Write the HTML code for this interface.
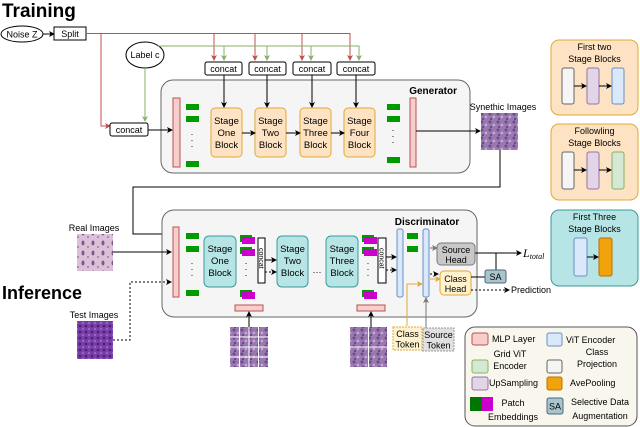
<!DOCTYPE html>
<html><head><meta charset="utf-8"><style>
html,body{margin:0;padding:0;background:#fff}
svg{display:block;font-family:"Liberation Sans",sans-serif}
</style></head><body>
<svg width="640" height="427" viewBox="0 0 640 427" xmlns="http://www.w3.org/2000/svg">
<defs>
<marker id="ak" markerWidth="6" markerHeight="6" refX="5" refY="3" orient="auto" markerUnits="userSpaceOnUse"><path d="M0,0 L6,3 L0,6 L1.5,3z" fill="#000"/></marker>
<marker id="ar" markerWidth="6" markerHeight="6" refX="5" refY="3" orient="auto" markerUnits="userSpaceOnUse"><path d="M0,0 L6,3 L0,6 L1.5,3z" fill="#c0504d"/></marker>
<marker id="ag" markerWidth="6" markerHeight="6" refX="5" refY="3" orient="auto" markerUnits="userSpaceOnUse"><path d="M0,0 L6,3 L0,6 L1.5,3z" fill="#82b366"/></marker>
<marker id="ay" markerWidth="6" markerHeight="6" refX="5" refY="3" orient="auto" markerUnits="userSpaceOnUse"><path d="M0,0 L6,3 L0,6 L1.5,3z" fill="#e0a838"/></marker>
<marker id="ay2" markerWidth="6" markerHeight="6" refX="5" refY="3" orient="auto" markerUnits="userSpaceOnUse"><path d="M0,0 L6,3 L0,6 L1.5,3z" fill="#777"/></marker>
<pattern id="tex1" width="8" height="8" patternUnits="userSpaceOnUse"><rect width="8" height="8" fill="#9a78b0"/><circle cx="2" cy="2" r="1.5" fill="#6b4a8a"/><circle cx="6" cy="5" r="1.2" fill="#c8b0d8"/><circle cx="3" cy="7" r="1" fill="#5a3a7a"/></pattern>
<pattern id="tex2" width="10" height="10" patternUnits="userSpaceOnUse"><rect width="10" height="10" fill="#dcc0d8"/><ellipse cx="3" cy="3" rx="1.5" ry="2.5" fill="#7a5a8a"/><circle cx="8" cy="7" r="1" fill="#9a7aa8"/></pattern>
<pattern id="tex3" width="6" height="6" patternUnits="userSpaceOnUse"><rect width="6" height="6" fill="#7a3fa8"/><circle cx="2" cy="2" r="1.3" fill="#4a1e7a"/><circle cx="5" cy="5" r="1" fill="#a070c8"/></pattern>
</defs>

<text x="2" y="17" font-size="19" font-weight="bold">Training</text>
<text x="2" y="299" font-size="18" font-weight="bold">Inference</text>

<ellipse cx="22" cy="34" rx="21" ry="8" fill="#fff" stroke="#000"/>
<text x="22" y="37.5" font-size="9" text-anchor="middle">Noise Z</text>
<line x1="43" y1="34" x2="54" y2="34" stroke="#000" marker-end="url(#ak)"/>
<rect x="54" y="27" width="32" height="13" fill="#fff" stroke="#000"/>
<text x="70" y="37" font-size="9" text-anchor="middle">Split</text>

<g stroke="#c0504d" fill="none">
<polyline points="86,33.5 350,33.5 350,60" marker-end="url(#ar)"/>
<line x1="214" y1="33.5" x2="214" y2="60" marker-end="url(#ar)"/>
<line x1="255" y1="33.5" x2="255" y2="60" marker-end="url(#ar)"/>
<line x1="302" y1="33.5" x2="302" y2="60" marker-end="url(#ar)"/>
<polyline points="101,33.5 101,126 110,126" marker-end="url(#ar)"/>
</g>
<ellipse cx="145" cy="55" rx="19" ry="13" fill="#fff" stroke="#000"/>
<text x="145" y="58" font-size="9" text-anchor="middle">Label c</text>
<g stroke="#82b366" fill="none">
<polyline points="157,46 359,46 359,60" marker-end="url(#ag)"/>
<line x1="224" y1="46" x2="224" y2="60" marker-end="url(#ag)"/>
<line x1="267" y1="46" x2="267" y2="60" marker-end="url(#ag)"/>
<line x1="311" y1="46" x2="311" y2="60" marker-end="url(#ag)"/>
<line x1="145" y1="68" x2="145" y2="121" marker-end="url(#ag)"/>
</g>
<g font-size="9" text-anchor="middle">
<rect x="205" y="62" width="37" height="13" rx="2" fill="#fff" stroke="#000"/><text x="223.5" y="72">concat</text>
<rect x="249" y="62" width="37" height="13" rx="2" fill="#fff" stroke="#000"/><text x="267.5" y="72">concat</text>
<rect x="293" y="62" width="38" height="13" rx="2" fill="#fff" stroke="#000"/><text x="312" y="72">concat</text>
<rect x="337" y="62" width="38" height="13" rx="2" fill="#fff" stroke="#000"/><text x="356" y="72">concat</text>
</g>

<rect x="161" y="80" width="309" height="93" rx="12" fill="#f5f5f5" stroke="#666"/>
<text x="457" y="94" font-size="10" font-weight="bold" text-anchor="end">Generator</text>
<rect x="110" y="123" width="38" height="13" rx="2" fill="#fff" stroke="#000"/>
<text x="129" y="133" font-size="9" text-anchor="middle">concat</text>
<line x1="148" y1="130" x2="172" y2="130" stroke="#000" marker-end="url(#ak)"/>
<rect x="173" y="98" width="7" height="69" fill="#f8cecc" stroke="#b85450"/>
<g fill="#009900">
<rect x="186" y="104" width="13" height="6"/><rect x="186" y="116" width="13" height="6"/><rect x="186" y="161" width="13" height="6"/>
<rect x="387" y="104" width="13" height="6"/><rect x="387" y="116" width="13" height="6"/><rect x="387" y="157" width="13" height="6"/>
</g>
<text x="393" y="133" font-size="9" text-anchor="middle">·</text><text x="393" y="139" font-size="9" text-anchor="middle">·</text><text x="393" y="145" font-size="9" text-anchor="middle">·</text>
<text x="192" y="137" font-size="9" text-anchor="middle">·</text><text x="192" y="143" font-size="9" text-anchor="middle">·</text><text x="192" y="149" font-size="9" text-anchor="middle">·</text>
<g fill="#fde3c3" stroke="#e0a838">
<rect x="211" y="108" width="31" height="49" rx="4"/><rect x="255" y="108" width="31" height="49" rx="4"/>
<rect x="300" y="108" width="31" height="49" rx="4"/><rect x="344" y="108" width="31" height="49" rx="4"/>
</g>
<g font-size="9.5" text-anchor="middle">
<text x="226.5" y="124">Stage</text><text x="226.5" y="136">One</text><text x="226.5" y="148">Block</text>
<text x="270.5" y="124">Stage</text><text x="270.5" y="136">Two</text><text x="270.5" y="148">Block</text>
<text x="315.5" y="124">Stage</text><text x="315.5" y="136">Three</text><text x="315.5" y="148">Block</text>
<text x="359.5" y="124">Stage</text><text x="359.5" y="136">Four</text><text x="359.5" y="148">Block</text>
</g>
<g stroke="#000" marker-end="url(#ak)">
<line x1="224" y1="75" x2="224" y2="107"/><line x1="267" y1="75" x2="267" y2="107"/>
<line x1="312" y1="75" x2="312" y2="107"/><line x1="356" y1="75" x2="356" y2="107"/>
<line x1="242" y1="133" x2="255" y2="133"/><line x1="286" y1="133" x2="300" y2="133"/><line x1="331" y1="133" x2="344" y2="133"/>
</g>
<rect x="410" y="98" width="6" height="69" fill="#f8cecc" stroke="#b85450"/>
<line x1="416" y1="131" x2="480" y2="131" stroke="#000" marker-end="url(#ak)"/>
<text x="503" y="110" font-size="9" text-anchor="middle">Synethic Images</text>
<rect x="481" y="113" width="37" height="37" fill="url(#tex1)"/>
<polyline points="500,150 500,187 133,187 133,234 171,234" fill="none" stroke="#000" marker-end="url(#ak)"/>

<rect x="162" y="210" width="315" height="107" rx="12" fill="#f5f5f5" stroke="#666"/>
<text x="427" y="225" font-size="10" font-weight="bold" text-anchor="middle">Discriminator</text>
<text x="94" y="231" font-size="9" text-anchor="middle">Real Images</text>
<rect x="77" y="234" width="36" height="37" fill="url(#tex2)"/>
<line x1="113" y1="252" x2="171" y2="252" stroke="#000" marker-end="url(#ak)"/>
<text x="94" y="318" font-size="9" text-anchor="middle">Test Images</text>
<rect x="77" y="321" width="36" height="38" fill="url(#tex3)"/>
<polyline points="113,340 130,340 130,282 171,282" fill="none" stroke="#000" stroke-dasharray="2,2" marker-end="url(#ak)"/>
<rect x="173" y="227" width="6" height="70" fill="#f8cecc" stroke="#b85450"/>
<g fill="#009900">
<rect x="186" y="233" width="13" height="6"/><rect x="186" y="246" width="13" height="6"/><rect x="186" y="290" width="13" height="6"/>
<rect x="240" y="235" width="12" height="7"/><rect x="240" y="247" width="12" height="7"/><rect x="240" y="290" width="12" height="7"/>
<rect x="362" y="235" width="12" height="7"/><rect x="362" y="247" width="12" height="7"/><rect x="362" y="290" width="12" height="7"/>
<rect x="407" y="233" width="11" height="6"/><rect x="407" y="246" width="11" height="6"/>
</g>
<g fill="#cc00cc">
<rect x="242" y="237" width="13" height="7"/><rect x="242" y="249" width="13" height="7"/><rect x="242" y="292" width="13" height="7"/>
<rect x="364" y="237" width="13" height="7"/><rect x="364" y="249" width="13" height="7"/><rect x="364" y="292" width="13" height="7"/>
</g>
<g font-size="9" text-anchor="middle">
<text x="192" y="266">·</text><text x="192" y="272">·</text><text x="192" y="278">·</text>
<text x="246" y="266">·</text><text x="246" y="272">·</text><text x="246" y="278">·</text>
<text x="368" y="266">·</text><text x="368" y="272">·</text><text x="368" y="278">·</text>
<text x="317" y="275">···</text>
</g>
<g fill="#b7e5e5" stroke="#3a9a9a">
<rect x="204" y="236" width="32" height="51" rx="5"/><rect x="277" y="236" width="31" height="51" rx="5"/><rect x="326" y="236" width="32" height="51" rx="5"/>
</g>
<g font-size="9.5" text-anchor="middle">
<text x="220" y="252">Stage</text><text x="220" y="264">One</text><text x="220" y="276">Block</text>
<text x="292.5" y="252">Stage</text><text x="292.5" y="264">Two</text><text x="292.5" y="276">Block</text>
<text x="342" y="252">Stage</text><text x="342" y="264">Three</text><text x="342" y="276">Block</text>
</g>
<rect x="258" y="238" width="7" height="45" fill="#fff" stroke="#000"/>
<rect x="378" y="238" width="8" height="45" fill="#fff" stroke="#000"/>
<text transform="translate(259,248) rotate(90)" font-size="7">concat</text>
<text transform="translate(379.5,248) rotate(90)" font-size="7">concat</text>
<g stroke="#000" fill="none">
<line x1="265" y1="260" x2="276" y2="260" marker-end="url(#ak)"/>
<line x1="265" y1="272" x2="276" y2="272" stroke-dasharray="2,2" marker-end="url(#ak)"/>
<line x1="386" y1="257" x2="396" y2="257" marker-end="url(#ak)"/>
<line x1="386" y1="270" x2="396" y2="270" stroke-dasharray="2,2" marker-end="url(#ak)"/>
<line x1="249" y1="327" x2="249" y2="312" marker-end="url(#ak)"/>
<line x1="371" y1="327" x2="371" y2="312" marker-end="url(#ak)"/>
<line x1="430" y1="274" x2="438" y2="274" stroke-dasharray="2,2" marker-end="url(#ak)"/>
</g>
<rect x="235" y="305" width="28" height="6" fill="#f8cecc" stroke="#b85450"/>
<rect x="357" y="305" width="28" height="6" fill="#f8cecc" stroke="#b85450"/>
<rect x="230" y="327" width="38" height="40" fill="url(#tex1)"/>
<g stroke="#fff" stroke-width="1"><line x1="239.5" y1="327" x2="239.5" y2="367"/><line x1="249" y1="327" x2="249" y2="367"/><line x1="258.5" y1="327" x2="258.5" y2="367"/><line x1="230" y1="337" x2="268" y2="337"/><line x1="230" y1="347" x2="268" y2="347"/><line x1="230" y1="357" x2="268" y2="357"/></g>
<rect x="350" y="327" width="37" height="40" fill="url(#tex1)"/>
<g stroke="#fff"><line x1="368.5" y1="327" x2="368.5" y2="367"/><line x1="350" y1="347" x2="387" y2="347"/></g>

<rect x="397" y="229" width="6" height="68" rx="2" fill="#dae8fc" stroke="#6c8ebf"/>
<rect x="423" y="229" width="6" height="68" rx="2" fill="#dae8fc" stroke="#6c8ebf"/>
<line x1="430" y1="248" x2="437" y2="248" stroke="#777" marker-end="url(#ay2)"/>
<line x1="430" y1="279" x2="440" y2="279" stroke="#e0a838" marker-end="url(#ay)"/>
<polyline points="407,326 407,284 422,284" fill="none" stroke="#e0a838" marker-end="url(#ay)"/>
<line x1="426" y1="328" x2="426" y2="298" stroke="#777" marker-end="url(#ay2)"/>
<rect x="437" y="243" width="38" height="22" rx="4" fill="#c8c8c8" stroke="#777"/>
<text x="456" y="253" font-size="9" text-anchor="middle">Source</text><text x="456" y="263" font-size="9" text-anchor="middle">Head</text>
<rect x="440" y="271" width="31" height="24" rx="4" fill="#fff2cc" stroke="#e0a838"/>
<text x="455.5" y="282" font-size="9" text-anchor="middle">Class</text><text x="455.5" y="292" font-size="9" text-anchor="middle">Head</text>
<line x1="475" y1="253" x2="521" y2="253" stroke="#000" marker-end="url(#ak)"/>
<line x1="496" y1="253" x2="496" y2="271" stroke="#000"/>
<line x1="471" y1="277" x2="485" y2="277" stroke="#000"/>
<rect x="485" y="270" width="21" height="13" rx="2" fill="#a9c4cc" stroke="#4a6a78"/>
<text x="495.5" y="280" font-size="9" text-anchor="middle">SA</text>
<text x="523" y="257" font-size="12" font-style="italic" font-family="Liberation Serif, serif">L<tspan font-size="8" dy="2">total</tspan></text>
<line x1="471" y1="290" x2="509" y2="290" stroke="#000" stroke-dasharray="2,2" marker-end="url(#ak)"/>
<text x="511" y="293" font-size="9">Prediction</text>
<rect x="393" y="327" width="29" height="23" fill="#fff2cc" stroke="#e0a838" stroke-dasharray="2,1"/>
<text x="407.5" y="337" font-size="9" text-anchor="middle">Class</text><text x="407.5" y="347.5" font-size="9" text-anchor="middle">Token</text>
<rect x="423" y="328" width="31" height="23" fill="#e0e0e0" stroke="#999" stroke-dasharray="2,1"/>
<text x="438.5" y="338" font-size="9" text-anchor="middle">Source</text><text x="438.5" y="348.5" font-size="9" text-anchor="middle">Token</text>

<rect x="551" y="40" width="87" height="75" rx="8" fill="#fde3c3" stroke="#e0a838"/>
<text x="594.5" y="50" font-size="9" text-anchor="middle">First two</text><text x="594.5" y="62" font-size="9" text-anchor="middle">Stage Blocks</text>
<rect x="562" y="68" width="12" height="36" rx="2" fill="#f5f5f5" stroke="#666"/>
<rect x="587" y="68" width="12" height="36" rx="2" fill="#e1d5e7" stroke="#9673a6"/>
<rect x="612" y="68" width="12" height="36" rx="2" fill="#dae8fc" stroke="#6c8ebf"/>
<line x1="574" y1="86" x2="586" y2="86" stroke="#000" marker-end="url(#ak)"/><line x1="599" y1="86" x2="611" y2="86" stroke="#000" marker-end="url(#ak)"/>
<rect x="551" y="124" width="87" height="76" rx="8" fill="#fde3c3" stroke="#e0a838"/>
<text x="594.5" y="134" font-size="9" text-anchor="middle">Followling</text><text x="594.5" y="146" font-size="9" text-anchor="middle">Stage Blocks</text>
<rect x="562" y="152" width="12" height="37" rx="2" fill="#f5f5f5" stroke="#666"/>
<rect x="587" y="152" width="12" height="37" rx="2" fill="#e1d5e7" stroke="#9673a6"/>
<rect x="612" y="152" width="12" height="37" rx="2" fill="#d5e8d4" stroke="#82b366"/>
<line x1="574" y1="170" x2="586" y2="170" stroke="#000" marker-end="url(#ak)"/><line x1="599" y1="170" x2="611" y2="170" stroke="#000" marker-end="url(#ak)"/>
<rect x="551" y="210" width="87" height="76" rx="8" fill="#b7e5e5" stroke="#3a9a9a"/>
<text x="594.5" y="220" font-size="9" text-anchor="middle">First Three</text><text x="594.5" y="232" font-size="9" text-anchor="middle">Stage Blocks</text>
<rect x="574" y="238" width="13" height="38" rx="2" fill="#dae8fc" stroke="#6c8ebf"/>
<rect x="599" y="238" width="13" height="38" rx="2" fill="#f0a30a" stroke="#bd7000"/>
<line x1="587" y1="257" x2="598" y2="257" stroke="#000" marker-end="url(#ak)"/>

<rect x="465" y="327" width="172" height="99" rx="10" fill="#f9f7ed" stroke="#555"/>
<g font-size="9">
<rect x="472" y="333" width="16" height="12" rx="2" fill="#f8cecc" stroke="#b85450"/><text x="492" y="342">MLP Layer</text>
<rect x="547" y="333" width="15" height="13" rx="2" fill="#dae8fc" stroke="#6c8ebf"/><text x="566" y="343">ViT Encoder</text>
<rect x="472" y="360" width="16" height="13" rx="2" fill="#d5e8d4" stroke="#82b366"/><text x="510" y="357" text-anchor="middle">Grid ViT</text><text x="510" y="369" text-anchor="middle">Encoder</text>
<rect x="547" y="360" width="15" height="13" rx="2" fill="#f5f5f5" stroke="#666"/><text x="597" y="355" text-anchor="middle">Class</text><text x="597" y="367" text-anchor="middle">Projection</text>
<rect x="472" y="377" width="16" height="13" rx="2" fill="#e1d5e7" stroke="#9673a6"/><text x="489" y="386">UpSampling</text>
<rect x="547" y="377" width="15" height="13" rx="2" fill="#f0a30a" stroke="#bd7000"/><text x="570" y="386">AvePooling</text>
<rect x="470" y="397" width="12" height="14" fill="#007700"/><rect x="482" y="397" width="11" height="14" fill="#cc00cc"/>
<text x="513" y="406" text-anchor="middle">Patch</text><text x="513" y="420" text-anchor="middle">Embeddings</text>
<rect x="547" y="398" width="16" height="16" rx="2" fill="#a9c4cc" stroke="#4a6a78"/><text x="555" y="409.5" text-anchor="middle">SA</text>
<text x="600" y="405" text-anchor="middle">Selective Data</text><text x="600" y="419" text-anchor="middle">Augmentation</text>
</g>
</svg>
</body></html>
